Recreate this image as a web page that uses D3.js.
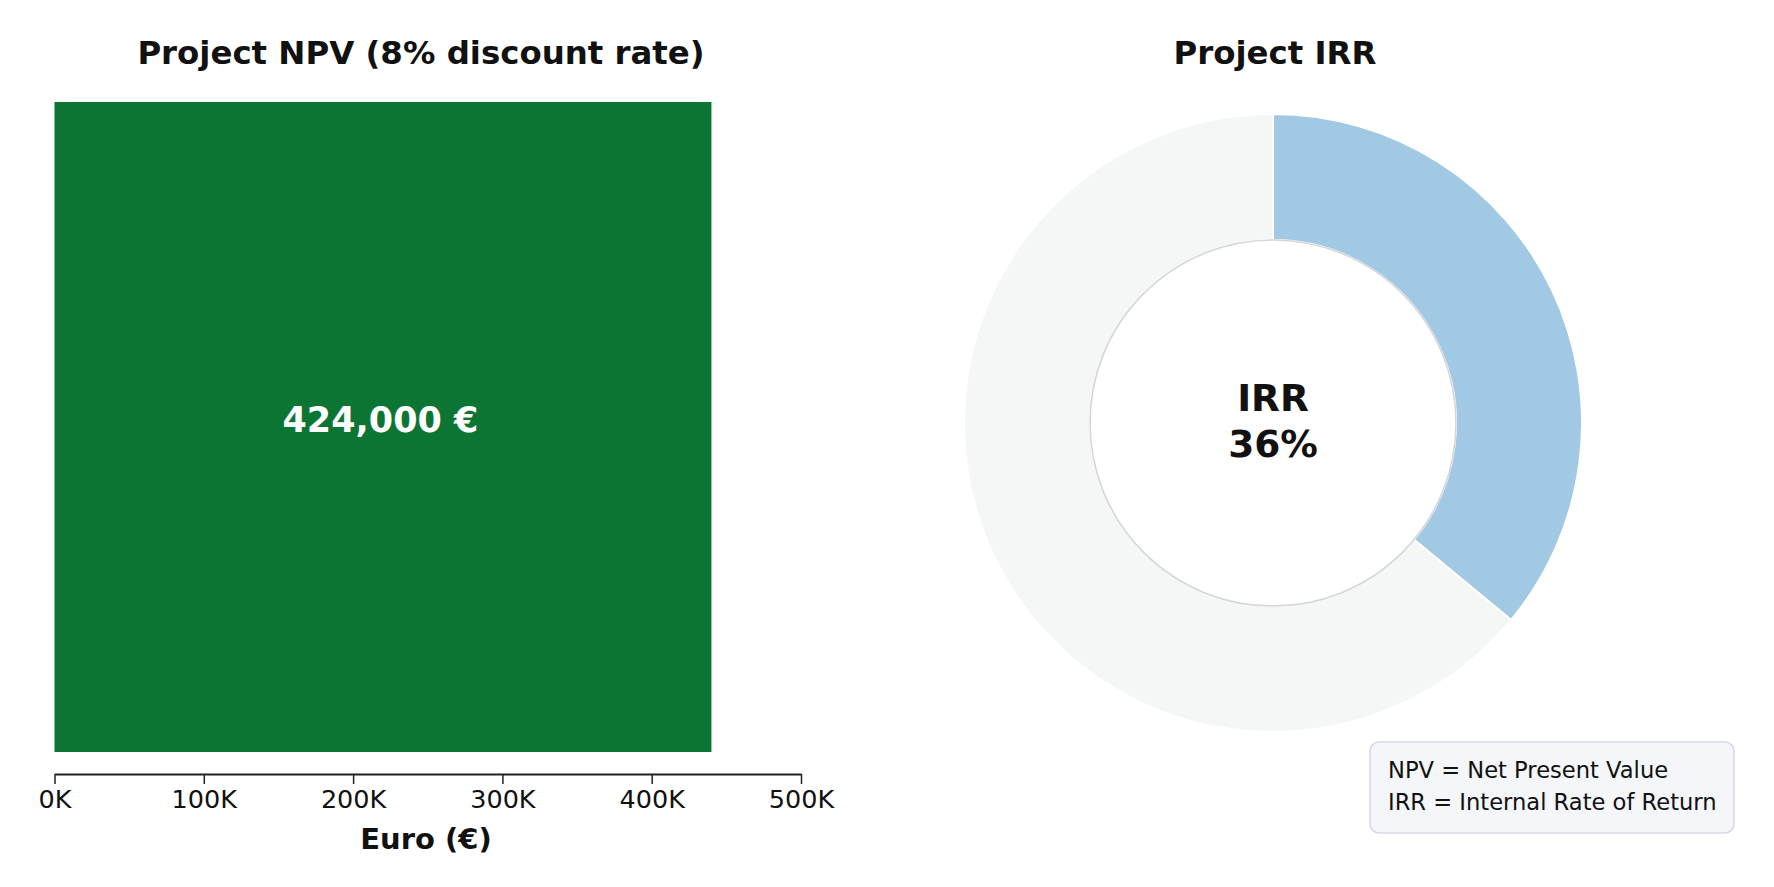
<!DOCTYPE html>
<html>
<head>
<meta charset="utf-8">
<script src="https://cdn.jsdelivr.net/npm/d3@7"></script>
<style>
  html, body { margin: 0; padding: 0; background: #ffffff; }
  svg { display: block; font-family: "DejaVu Sans", sans-serif; }
</style>
</head>
<body>
<svg id="chart" width="1774" height="887"></svg>
<script>
// ---- data ----
const npvCategories = ["Project NPV"];
const npvValues = [440000];            // bar length as drawn
const npvLabels = ["424,000 €"];       // label printed on bar
const npvTicks = [0, 100000, 200000, 300000, 400000, 500000];
const npvTickLabels = ["0K", "100K", "200K", "300K", "400K", "500K"];
const irrCategories = ["IRR", "Remainder"];
const irrValues = [36, 64];
const irrCenterLabels = ["IRR", "36%"];
const legendLines = ["NPV = Net Present Value", "IRR = Internal Rate of Return"];
const titles = ["Project NPV (8% discount rate)", "Project IRR"];
const xAxisTitle = "Euro (€)";

// ---- layout ----
const svg = d3.select("#chart");

// Left panel: horizontal bar
const x = d3.scaleLinear().domain([0, 500000]).range([54.5, 801]);
const y = d3.scaleBand().domain(npvCategories).range([102, 752]).padding(0);

svg.append("text")
  .attr("x", 421).attr("y", 53)
  .attr("text-anchor", "middle").attr("dominant-baseline", "central")
  .attr("font-size", 32.4).attr("font-weight", "bold").attr("fill", "#111")
  .text(titles[0]);

svg.selectAll("rect.bar").data(npvValues).enter().append("rect")
  .attr("class", "bar")
  .attr("x", x(0))
  .attr("y", (d, i) => y(npvCategories[i]))
  .attr("width", d => x(d) - x(0))
  .attr("height", y.bandwidth())
  .attr("fill", "#0c7533");

svg.selectAll("text.barlabel").data(npvValues).enter().append("text")
  .attr("class", "barlabel")
  .attr("x", d => (x(0) + x(d)) / 2 - 2.5)
  .attr("y", (d, i) => y(npvCategories[i]) + y.bandwidth() / 2 - 7.5)
  .attr("text-anchor", "middle").attr("dominant-baseline", "central")
  .attr("font-size", 35).attr("font-weight", "bold").attr("fill", "#ffffff")
  .text((d, i) => npvLabels[i]);

const axis = d3.axisBottom(x)
  .tickValues(npvTicks)
  .tickFormat((d, i) => npvTickLabels[i])
  .tickSize(10).tickSizeOuter(0).tickPadding(6);

const gAxis = svg.append("g")
  .attr("transform", "translate(0,774)")
  .call(axis);
gAxis.select(".domain").attr("stroke", "#222").attr("stroke-width", 2);
gAxis.selectAll(".tick line").attr("stroke", "#222").attr("stroke-width", 1.5)
  .attr("y1", 0).attr("y2", 10);
gAxis.selectAll(".tick text")
  .attr("font-size", 25.5).attr("fill", "#111")
  .attr("font-family", "DejaVu Sans, sans-serif");

svg.append("text")
  .attr("x", 426).attr("y", 839)
  .attr("text-anchor", "middle").attr("dominant-baseline", "central")
  .attr("font-size", 29).attr("font-weight", "bold").attr("fill", "#111")
  .text(xAxisTitle);

// Right panel: donut
const cx = 1273, cy = 423, R = 309, r0 = 183;

svg.append("text")
  .attr("x", 1275).attr("y", 53)
  .attr("text-anchor", "middle").attr("dominant-baseline", "central")
  .attr("font-size", 32.4).attr("font-weight", "bold").attr("fill", "#111")
  .text(titles[1]);

const pie = d3.pie().sort(null).value(d => d)
  .startAngle(0).endAngle(2 * Math.PI);
const arc = d3.arc().innerRadius(r0).outerRadius(R);
const colors = ["#a1c9e3", "#f5f6f6"];

const gDonut = svg.append("g").attr("transform", `translate(${cx},${cy})`);
gDonut.selectAll("path").data(pie(irrValues)).enter().append("path")
  .attr("d", arc)
  .attr("fill", (d, i) => colors[i])
  .attr("stroke", "#ffffff").attr("stroke-width", 2);

gDonut.append("circle")
  .attr("r", r0).attr("fill", "#ffffff")
  .attr("stroke", "#d4d6d9").attr("stroke-width", 1.6);

gDonut.selectAll("text.center").data(irrCenterLabels).enter().append("text")
  .attr("class", "center")
  .attr("x", 0)
  .attr("y", (d, i) => -25 + i * 46)
  .attr("text-anchor", "middle").attr("dominant-baseline", "central")
  .attr("font-size", 37.5).attr("font-weight", "bold").attr("fill", "#111")
  .text(d => d);

// Legend box
const gLeg = svg.append("g");
gLeg.append("rect")
  .attr("x", 1370).attr("y", 742).attr("width", 364).attr("height", 91)
  .attr("rx", 9).attr("ry", 9)
  .attr("fill", "#f4f6f9").attr("stroke", "#d5d9de").attr("stroke-width", 1.5);
gLeg.selectAll("text").data(legendLines).enter().append("text")
  .attr("x", 1388)
  .attr("y", (d, i) => 778 + i * 32)
  .attr("font-size", 22.6).attr("fill", "#111")
  .text(d => d);
</script>
</body>
</html>
